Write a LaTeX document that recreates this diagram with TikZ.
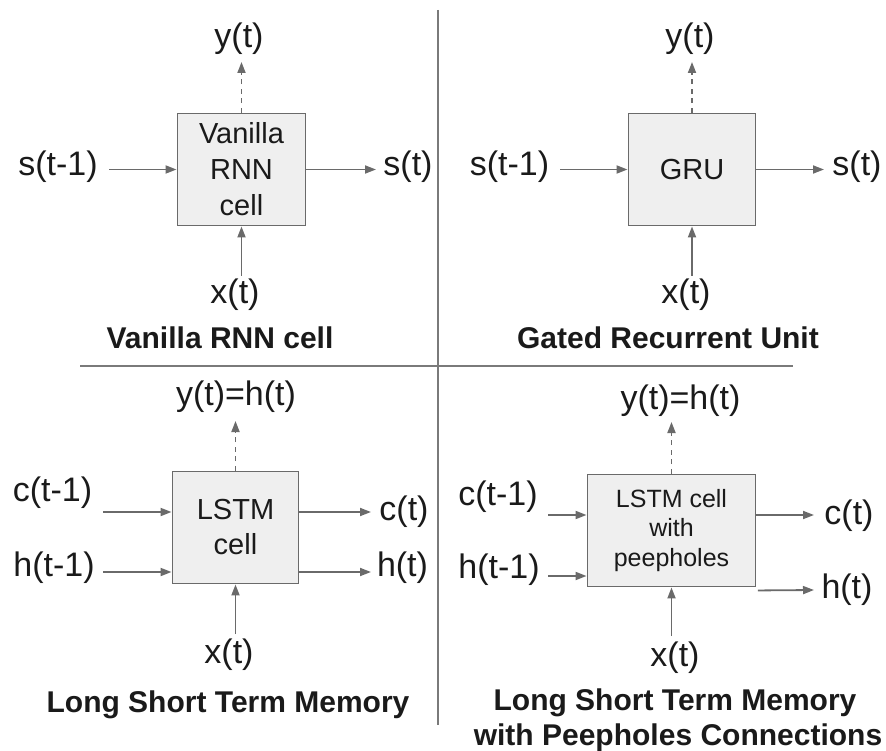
\documentclass[tikz,border=0pt]{standalone}
\usepackage{fontspec}
\setmainfont{Liberation Sans}
\usetikzlibrary{arrows.meta}
\definecolor{linegray}{HTML}{6A6A6A}
\definecolor{boxfill}{HTML}{EFEFEF}
\definecolor{rulegray}{HTML}{7A7A7A}
\definecolor{ink}{HTML}{1A1A1A}
\begin{document}
\begin{tikzpicture}[x=1pt,y=-1pt,
  lbl/.style={inner sep=0pt, text=ink, font=\fontsize{34}{40}\selectfont},
  ttl/.style={inner sep=0pt, anchor=base, text=ink, font=\fontsize{30}{34}\selectfont\bfseries},
  cell/.style={draw=linegray, line width=1.9pt, fill=boxfill, inner sep=0pt, align=center,
    text=ink, minimum height=112pt, font=\fontsize{29}{36}\selectfont},
  flow/.style={draw=linegray, line width=1.8pt, -{Triangle[length=11pt,width=8pt]}},
  outflow/.style={flow, dash pattern=on 5pt off 4.5pt},
  divider/.style={draw=rulegray, line width=1.6pt}]

\useasboundingbox (0,0) rectangle (886,751);

% quadrant separators
\coordinate (vTop) at (438,10);
\coordinate (vBot) at (438,725);
\coordinate (hL) at (80,366);
\coordinate (hR) at (793,366);
\draw[divider] (vTop) -- (vBot);
\draw[divider] (hL) -- (hR);

% ---------- Vanilla RNN cell ----------
\node[cell, minimum width=128pt] (rnn) at (241.5,169.5) {Vanilla\\RNN\\cell};
\node[lbl] (rnnSin) at (58,167) {s(t-1)};
\node[lbl] (rnnSout) at (408,167) {s(t)};
\node[lbl] (rnnY) at (239,39) {y(t)};
\node[lbl] (rnnX) at (235,295) {x(t)};
\node[ttl] (rnnT) at (220,348) {Vanilla RNN cell};
\coordinate (rnnA) at (109,169.5);
\coordinate (rnnB) at (376,169.5);
\coordinate (rnnC) at (241.5,276);
\coordinate (rnnD) at (241.5,62);
\draw[flow] (rnnA) -- (rnnA -| rnn.west);
\draw[flow] (rnn.east) -- (rnnB);
\draw[flow] (rnnC) -- (rnn.south);
\draw[outflow] (rnn.north) -- (rnnD);

% ---------- GRU ----------
\node[cell, minimum width=127pt] (gru) at (692,169.5) {GRU};
\node[lbl] (gruSin) at (509.5,167) {s(t-1)};
\node[lbl] (gruSout) at (857,167) {s(t)};
\node[lbl] (gruY) at (690,39) {y(t)};
\node[lbl] (gruX) at (686,295) {x(t)};
\node[ttl] (gruT) at (668,348) {Gated Recurrent Unit};
\coordinate (gruA) at (560,169.5);
\coordinate (gruB) at (824,169.5);
\coordinate (gruC) at (692,276);
\coordinate (gruD) at (692,62);
\draw[flow] (gruA) -- (gruA -| gru.west);
\draw[flow] (gru.east) -- (gruB);
\draw[flow] (gruC) -- (gru.south);
\draw[outflow] (gru.north) -- (gruD);

% ---------- LSTM ----------
\node[cell, minimum width=126pt, font=\fontsize{29}{35}\selectfont] (lstm) at (235.5,527.5) {LSTM\\cell};
\node[lbl] (lstmCin) at (52.5,493) {c(t-1)};
\node[lbl] (lstmHin) at (54,568) {h(t-1)};
\node[lbl] (lstmCout) at (404,512) {c(t)};
\node[lbl] (lstmHout) at (402.5,568) {h(t)};
\node[lbl] (lstmY) at (236,397) {y(t)=h(t)};
\node[lbl] (lstmX) at (229,655) {x(t)};
\node[ttl] (lstmT) at (228,712) {Long Short Term Memory};
\coordinate (lstmA) at (103,512);
\coordinate (lstmB) at (103,572);
\coordinate (lstmE) at (371,512);
\coordinate (lstmF) at (371,572);
\coordinate (lstmC) at (235.5,634);
\coordinate (lstmD) at (235.5,421);
\draw[flow] (lstmA) -- (lstmA -| lstm.west);
\draw[flow] (lstmB) -- (lstmB -| lstm.west);
\draw[flow] (lstmE -| lstm.east) -- (lstmE);
\draw[flow] (lstmF -| lstm.east) -- (lstmF);
\draw[flow] (lstmC) -- (lstm.south);
\draw[outflow] (lstm.north) -- (lstmD);

% ---------- LSTM with peepholes ----------
\node[cell, minimum width=168pt, font=\fontsize{25}{29.5}\selectfont] (peep) at (671.5,530.5) {LSTM cell\\with\\peepholes};
\node[lbl] (peepCin) at (498,497) {c(t-1)};
\node[lbl] (peepHin) at (499,570) {h(t-1)};
\node[lbl] (peepCout) at (849,516) {c(t)};
\node[lbl] (peepHout) at (847,590) {h(t)};
\node[lbl] (peepY) at (680.5,401) {y(t)=h(t)};
\node[lbl] (peepX) at (675,658) {x(t)};
\node[ttl] (peepT1) at (675,710) {Long Short Term Memory};
\node[ttl] (peepT2) at (678,745) {with Peepholes Connections};
\coordinate (peepA) at (548,515);
\coordinate (peepB) at (548,576);
\coordinate (peepE) at (814,515);
\coordinate (peepF) at (814,590);
\coordinate (peepC) at (671.5,636);
\coordinate (peepD) at (671.5,422);
\draw[flow] (peepA) -- (peepA -| peep.west);
\draw[flow] (peepB) -- (peepB -| peep.west);
\draw[flow] (peepE -| peep.east) -- (peepE);
\draw[flow] ([shift={(1.5,3)}]peep.south east) -- (peepF);
\draw[flow] (peepC) -- (peep.south);
\draw[outflow] (peep.north) -- (peepD);
\end{tikzpicture}
\end{document}
